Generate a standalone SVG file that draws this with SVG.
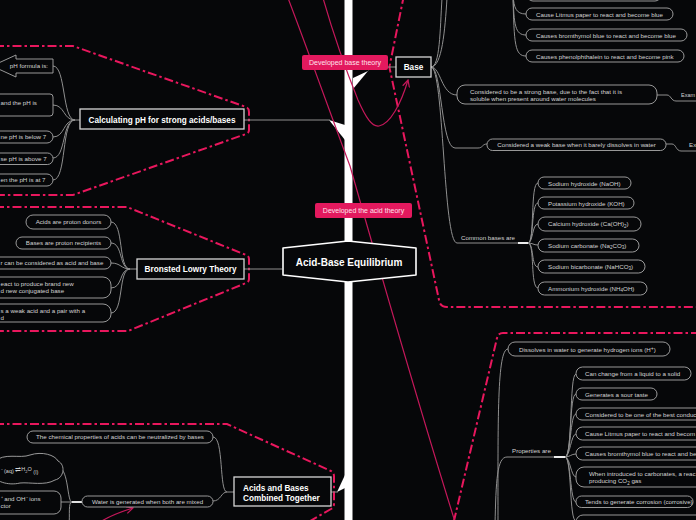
<svg xmlns="http://www.w3.org/2000/svg" width="696" height="520" viewBox="0 0 696 520">
<defs>
<style>
.c{fill:none;stroke:#8f8f8f;stroke-width:1}
.p{fill:#060709;stroke:#a9a9a9;stroke-width:0.9}
.box{fill:#060709;stroke:#d6d6d6;stroke-width:1.3}
.t{font-family:"Liberation Sans",Arial,sans-serif;font-size:6.2px;fill:#d4d4d4}
.b{font-family:"Liberation Sans",Arial,sans-serif;font-size:8.2px;font-weight:bold;fill:#ffffff}
.bd{fill:none;stroke:#e8175d;stroke-width:2;stroke-dasharray:9 3 2.5 3}
.rel{fill:none;stroke:#c4185a;stroke-width:1.2}
.lab{fill:#e3195e}
.lt{font-family:"Liberation Sans",Arial,sans-serif;font-size:7px;fill:#ffe3ec;text-anchor:middle}
.m{text-anchor:middle}
.e{text-anchor:end}
.w{fill:#ffffff}
</style>
<marker id="arr" viewBox="0 0 8 8" refX="7" refY="4" markerWidth="8" markerHeight="8" orient="auto" markerUnits="userSpaceOnUse">
<path d="M0,0.5 L7,4 L0,7.5" fill="none" stroke="#c4185a" stroke-width="1.2"/>
</marker>
</defs>
<rect width="696" height="520" fill="#060709"/>

<g id="boundaries">
<path class="bd" d="M-5,46 L73,46 L246,107 Q249,108 249,112 L249,130 Q249,133 246,134 L73,195 L-5,195"/>
<path class="bd" d="M-5,207 L127,207 L246,255 Q249,256 249,259 L249,279 Q249,282 246,283 L128,331 L-5,331"/>
<path class="bd" d="M-5,424 L227,424 L331,471 Q334,473 334,476 L334,504 Q334,507 331,509 L305,524"/>
<path class="bd" d="M404,-5 L390,64 Q389,67 390,70 L439,300 Q440,307 447,307 L700,307"/>
<path class="bd" d="M700,333 L503,333 Q498,333 497,338 L453,525"/>
</g>

<g id="trunk">
<rect x="344.5" y="0" width="8" height="520" fill="#ffffff"/>
<polygon class="w" points="329,120 345,125 345,140"/>
<polygon class="w" points="353,78 368,71 353,89"/>
<polygon class="w" points="337,492 345,475 345,488"/>
</g>

<g id="connectors">
<path class="c" d="M244,120 L330,120"/>
<path class="c" d="M368,70 C375,67 382,67 396,67"/>
<path class="c" d="M282,269 L244,269"/>
<path class="c" d="M331,492 L338,492"/>
<path class="c" d="M53,66 C66,66 62,120 75,120 L80,120"/>
<path class="c" d="M53,105 C65,105 63,120 75,120"/>
<path class="c" d="M53,137 C65,137 63,120 75,120"/>
<path class="c" d="M53,158 C66,158 62,120 75,120"/>
<path class="c" d="M53,180 C67,180 61,120 75,120"/>
<path class="c" d="M111,222 C124,222 118,269 130,269 L137,269"/>
<path class="c" d="M111,243 C123,243 119,269 130,269"/>
<path class="c" d="M111,263 C121,263 121,269 130,269"/>
<path class="c" d="M111,288 C123,288 119,269 130,269"/>
<path class="c" d="M111,313 C124,313 118,269 130,269"/>
<path class="c" d="M213,437 C224,437 219,492 227,492 L234,492"/>
<path class="c" d="M213,501 C221,501 221,492 227,492"/>
<path class="c" d="M82,502 L61,502"/>
<path d="M72,502 L82,502" stroke="#e0e0e0" stroke-width="2"/>
<path class="c" d="M72,502 C67,502 69,471 59,467"/>
<path class="c" d="M72,502 C68,502 70,515 69,525"/>
<path class="c" d="M431,67 C440,67 440,30 442,-2"/>
<path class="c" d="M431,67 C442,67 445,30 447,-2"/>
<path class="c" d="M431,67 C441,67 441,95 457,95"/>
<path class="c" d="M431,67 C442,67 441,148 455,148 L478,148 C483,148 482,144 487,144"/>
<path class="c" d="M431,67 C444,67 443,243 457,243 L518,243"/>
<path d="M518,243 L528,243" stroke="#ececec" stroke-width="2"/>
<path class="c" d="M528,243 C535,243 530,183 538,183"/>
<path class="c" d="M528,243 C534,243 531,203 538,203"/>
<path class="c" d="M528,243 C533,243 532,224 538,224"/>
<path class="c" d="M528,243 C533,243 533,245 538,245"/>
<path class="c" d="M528,243 C534,243 531,267 538,267"/>
<path class="c" d="M528,243 C535,243 530,288 538,288"/>
<path class="c" d="M513,-5 C514,8 516,14 526,14"/>
<path class="c" d="M513,-5 C514,25 515,35 526,35"/>
<path class="c" d="M513,-5 C514,45 515,56 526,56"/>
<path class="c" d="M657,95 L667,95 C671,95 671,101 676,101 L700,101"/>
<path class="c" d="M666,144 L672,144 C676,144 676,151 681,151 L700,151"/>
<path class="c" d="M498,525 C498,420 497,349 508,349"/>
<path class="c" d="M495,525 C496,480 497,457 507,457 L554,457"/>
<path d="M554,457 L565,457" stroke="#ececec" stroke-width="2"/>
<path class="c" d="M565,457 C573,457 569,374 576,374"/>
<path class="c" d="M565,457 C572,457 569,394 576,394"/>
<path class="c" d="M565,457 C571,457 570,414 576,414"/>
<path class="c" d="M565,457 C570,457 571,434 576,434"/>
<path class="c" d="M565,457 C570,457 571,454 576,454"/>
<path class="c" d="M565,457 C570,457 571,477 576,477"/>
<path class="c" d="M565,457 C571,457 570,502 576,502"/>
<path class="c" d="M565,457 C572,457 569,521 576,521"/>
</g>

<g id="relationships">
<path class="rel" d="M288,-2 C310,56 340,140 350,166 C370,236 420,410 456,525"/>
<path class="rel" d="M323,-2 C335,40 348,75 358,100 C366,118 372,127 379,126 C390,124 401,104 408,80" marker-end="url(#arr)"/>
<path class="rel" d="M100,522 C110,516 120,512 133,508" marker-end="url(#arr)"/>
</g>

<g id="label-base-theory">
<rect class="lab" x="302" y="55" width="86" height="15" rx="2"/>
<text class="lt" x="345" y="65">Developed base theory</text>
</g>
<g id="label-acid-theory">
<rect class="lab" x="315" y="203" width="97" height="15" rx="2"/>
<text class="lt" x="363.5" y="213">Developed the acid theory</text>
</g>

<g id="central">
<path d="M283,248 L348,241 L416,248 L416,275 L348,282 L283,275 Z" fill="#060709" stroke="#ffffff" stroke-width="1.6" stroke-linejoin="round"/>
<text class="b m" x="349" y="265.5" style="font-size:10px">Acid-Base Equilibrium</text>
</g>

<g id="calc">
<rect class="box" x="80" y="109" width="164" height="20"/>
<text class="b m" x="162" y="122.8">Calculating pH for strong acids/bases</text>
</g>
<g id="calc-1">
<path class="p" d="M53,59 L16,59 L16,55 L-8,66 L16,77 L16,73 L53,73 Z"/>
<text class="t e" x="48" y="68">pH formula is:</text>
</g>
<g id="calc-2">
<rect class="p" x="-20" y="94" width="73" height="22" rx="3"/>
<text class="t" x="0.5" y="105">and the pH is</text>
</g>
<g id="calc-3">
<rect class="p" x="-20" y="131" width="73" height="12" rx="6"/>
<text class="t" x="0.5" y="139">ne pH is below 7</text>
</g>
<g id="calc-4">
<rect class="p" x="-20" y="153" width="73" height="11.5" rx="5.5"/>
<text class="t" x="0.5" y="161">se pH is above 7</text>
</g>
<g id="calc-5">
<rect class="p" x="-20" y="174" width="73" height="12" rx="6"/>
<text class="t" x="0.5" y="182">en the pH is at 7</text>
</g>

<g id="bronsted">
<rect class="box" x="137" y="259" width="107" height="20"/>
<text class="b m" x="190.5" y="272">Bronsted Lowry Theory</text>
</g>
<g id="br-1">
<rect class="p" x="26" y="215" width="85" height="14" rx="7"/>
<text class="t m" x="68.5" y="224">Acids are proton donors</text>
</g>
<g id="br-2">
<rect class="p" x="16" y="237" width="95" height="12" rx="6"/>
<text class="t m" x="63.5" y="245">Bases are proton recipients</text>
</g>
<g id="br-3">
<rect class="p" x="-20" y="257" width="131" height="12" rx="6"/>
<text class="t" x="0.5" y="265">r can be considered as acid and base</text>
</g>
<g id="br-4">
<rect class="p" x="-20" y="277" width="131" height="21" rx="8"/>
<text class="t" x="0.5" y="286">eact to produce brand new</text>
<text class="t" x="0.5" y="292.5">d new conjugated base</text>
</g>
<g id="br-5">
<rect class="p" x="-20" y="304" width="131" height="18" rx="8"/>
<text class="t" x="0.5" y="313">s a weak acid and a pair with a</text>
<text class="t" x="0.5" y="319.5">d</text>
</g>

<g id="combined">
<rect class="box" x="234" y="477" width="97" height="29"/>
<text class="b" x="243" y="491">Acids and Bases</text>
<text class="b" x="243" y="500.5">Combined Together</text>
</g>
<g id="cb-1">
<rect class="p" x="27" y="431" width="186" height="12" rx="6"/>
<text class="t m" x="120" y="439">The chemical properties of acids can be neutralized by bases</text>
</g>
<g id="cb-2">
<rect class="p" x="82" y="496" width="131" height="11" rx="5.5"/>
<text class="t m" x="147.5" y="503.5">Water is generated when both are mixed</text>
</g>
<g id="cb-cloud">
<path class="p" d="M-6,462 C4,452 20,459 30,455 C42,451 55,455 58,461 C66,465 64,478 55,480 C45,486 30,482 20,483 C8,486 -6,481 -6,475 Z"/>
<text class="t" x="0.5" y="473" style="font-size:5.5px">⁻ (aq) <tspan font-size="7" dy="-1">⇌</tspan><tspan dy="-1">H</tspan><tspan font-size="4" dy="1.5">2</tspan><tspan dy="-1.5">O</tspan><tspan dy="2.5"> (l)</tspan></text>
</g>
<g id="cb-box">
<rect class="p" x="-20" y="491" width="81" height="23" rx="7"/>
<text class="t" x="0.5" y="500.5">⁺ and OH⁻ ions</text>
<text class="t" x="0.5" y="507.5">ctor</text>
</g>

<g id="base">
<rect class="box" x="396" y="57" width="35" height="20"/>
<text class="b m" x="413.5" y="70">Base</text>
</g>
<g id="base-top">
<rect class="p" x="527" y="-12" width="134" height="13" rx="6"/>
</g>
<g id="base-1">
<rect class="p" x="526" y="8" width="147" height="12" rx="6"/>
<text class="t" x="536" y="16.5">Cause Litmus paper to react and become blue</text>
</g>
<g id="base-2">
<rect class="p" x="526" y="29" width="161" height="12" rx="6"/>
<text class="t" x="536" y="37.5">Causes bromthymol blue to react and become blue</text>
</g>
<g id="base-3">
<rect class="p" x="526" y="50" width="158" height="12" rx="6"/>
<text class="t" x="536" y="58.5">Causes phenolphthalein to react and become pink</text>
</g>
<g id="base-strong">
<rect class="p" x="457" y="85" width="200" height="19" rx="8"/>
<text class="t" x="470" y="94">Considered to be a strong base, due to the fact that it is</text>
<text class="t" x="470" y="100.5">soluble when present around water molecules</text>
</g>
<g id="base-strong-ex">
<text class="t" x="681" y="97" textLength="14" lengthAdjust="spacingAndGlyphs">Exam</text>
</g>
<g id="base-weak">
<rect class="p" x="487" y="139" width="179" height="11.5" rx="5.5"/>
<text class="t m" x="576.5" y="147">Considered a weak base when it barely dissolves in water</text>
</g>
<g id="base-weak-ex">
<text class="t" x="689" y="147">Ex</text>
</g>
<g id="common">
<text class="t" x="461" y="239.5">Common bases are</text>
</g>
<g id="cb1"><rect class="p" x="538" y="177" width="93" height="12" rx="6"/><text class="t" x="548" y="185.5">Sodium hydroxide (NaOH)</text></g>
<g id="cb2"><rect class="p" x="538" y="197" width="96" height="12" rx="6"/><text class="t" x="548" y="205.5">Potassium hydroxide (KOH)</text></g>
<g id="cb3"><rect class="p" x="538" y="217" width="103" height="14" rx="7"/><text class="t" x="548" y="226">Calcium hydroxide (Ca(OH)<tspan font-size="4.5" dy="1.5">2</tspan><tspan dy="-1.5">)</tspan></text></g>
<g id="cb4"><rect class="p" x="538" y="239" width="101" height="13" rx="6.5"/><text class="t" x="548" y="247.5">Sodium carbonate (Na<tspan font-size="4.5" dy="1">2</tspan><tspan dy="-1">CO</tspan><tspan font-size="4.5" dy="1">3</tspan><tspan dy="-1">)</tspan></text></g>
<g id="cb5"><rect class="p" x="538" y="260" width="107" height="13" rx="6.5"/><text class="t" x="548" y="269">Sodium bicarbonate (NaHCO<tspan font-size="4.5" dy="1">3</tspan><tspan dy="-1">)</tspan></text></g>
<g id="cb6"><rect class="p" x="538" y="282" width="109" height="13" rx="6.5"/><text class="t" x="548" y="290.5">Ammonium hydroxide (NH<tspan font-size="4.5" dy="1">4</tspan><tspan dy="-1">OH)</tspan></text></g>

<g id="acid-1">
<rect class="p" x="508" y="342" width="162" height="14" rx="7"/>
<text class="t" x="519" y="351.5">Dissolves in water to generate hydrogen ions (H<tspan font-size="5" dy="-2">+</tspan><tspan dy="2">)</tspan></text>
</g>
<g id="properties">
<text class="t" x="512" y="453">Properties are</text>
</g>
<g id="ap1"><rect class="p" x="576" y="367" width="115" height="13" rx="6.5"/><text class="t" x="585" y="376">Can change from a liquid to a solid</text></g>
<g id="ap2"><rect class="p" x="576" y="388" width="81" height="12" rx="6"/><text class="t" x="585" y="396.5">Generates a sour taste</text></g>
<g id="ap3"><rect class="p" x="576" y="408" width="140" height="12" rx="6"/><text class="t" x="585" y="416.5">Considered to be one of the best conduc</text></g>
<g id="ap4"><rect class="p" x="576" y="427" width="140" height="13" rx="6.5"/><text class="t" x="585" y="436">Cause Litmus paper to react and becom</text></g>
<g id="ap5"><rect class="p" x="576" y="447" width="140" height="13" rx="6.5"/><text class="t" x="585" y="456">Causes bromthymol blue to react and be</text></g>
<g id="ap6"><rect class="p" x="576" y="467" width="140" height="20" rx="8"/><text class="t" x="589" y="476">When introduced to carbonates, a reac</text><text class="t" x="589" y="483">producing CO<tspan font-size="4.5" dy="1.5">2</tspan><tspan dy="-1.5"> gas</tspan></text></g>
<g id="ap7"><rect class="p" x="576" y="496" width="117" height="11.5" rx="5.5"/><text class="t" x="585" y="504">Tends to generate corrosion (corrosive)</text></g>
<g id="ap8"><rect class="p" x="576" y="515" width="140" height="14" rx="7"/></g>
</svg>
